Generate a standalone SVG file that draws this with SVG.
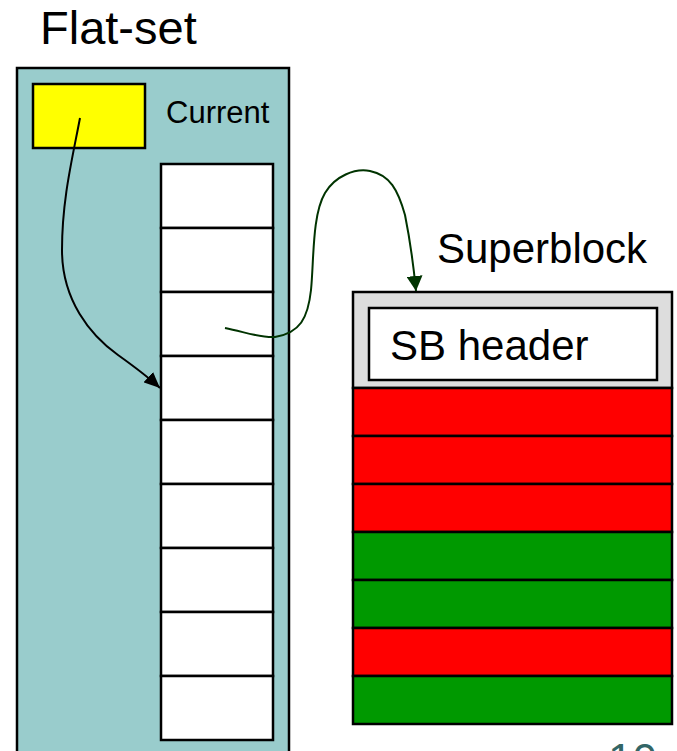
<svg xmlns="http://www.w3.org/2000/svg" width="677" height="751" viewBox="0 0 677 751">
  <defs>
    <style>
      .lbl { font-family: "Liberation Sans", Arial, sans-serif; fill: #000; }
      .box { stroke: #000; stroke-width: 2.5; }
      .cell { fill: #fff; stroke: #000; stroke-width: 2.5; }
      .red { fill: #ff0000; stroke: #000; stroke-width: 2.5; }
      .green { fill: #009900; stroke: #000; stroke-width: 2.5; }
      .link { fill: none; stroke-width: 2; }
    </style>
    <marker id="arrowBlack" viewBox="0 0 16 14" refX="16" refY="7" markerWidth="16" markerHeight="14" markerUnits="userSpaceOnUse" orient="auto">
      <path d="M0,0 L16,7 L0,14 z" fill="#000"/>
    </marker>
    <marker id="arrowGreen" viewBox="0 0 15 16" refX="15" refY="8" markerWidth="15" markerHeight="16" markerUnits="userSpaceOnUse" orient="auto">
      <path d="M0,0 L15,8 L0,16 z" fill="#003300"/>
    </marker>
  </defs>

  <rect width="677" height="751" fill="#fff"/>

  <!-- Flat-set container -->
  <g id="flat-set">
    <text class="lbl" x="40" y="44" font-size="47">Flat-set</text>
    <rect class="box" x="17" y="68" width="272" height="700" fill="#99cccc"/>
  </g>

  <!-- Current pointer -->
  <g id="current">
    <rect class="box" x="33" y="84" width="112" height="64" fill="#ffff00"/>
    <text class="lbl" x="166" y="123" font-size="31">Current</text>
  </g>

  <!-- Flat-set slots -->
  <g id="slots">
    <rect class="cell" x="161" y="164" width="112" height="64"/>
    <rect class="cell" x="161" y="228" width="112" height="64"/>
    <rect class="cell" x="161" y="292" width="112" height="64"/>
    <rect class="cell" x="161" y="356" width="112" height="64"/>
    <rect class="cell" x="161" y="420" width="112" height="64"/>
    <rect class="cell" x="161" y="484" width="112" height="64"/>
    <rect class="cell" x="161" y="548" width="112" height="64"/>
    <rect class="cell" x="161" y="612" width="112" height="64"/>
    <rect class="cell" x="161" y="676" width="112" height="64"/>
  </g>

  <!-- Superblock -->
  <g id="superblock">
    <text class="lbl" x="437" y="263" font-size="42">Superblock</text>
    <rect class="box" x="353" y="292" width="319" height="96" fill="#dddddd"/>
    <rect class="box" x="369" y="308" width="288" height="72" fill="#fff"/>
    <text class="lbl" x="390" y="360" font-size="42">SB header</text>
    <rect class="red" x="353" y="388" width="319" height="48"/>
    <rect class="red" x="353" y="436" width="319" height="48"/>
    <rect class="red" x="353" y="484" width="319" height="48"/>
    <rect class="green" x="353" y="532" width="319" height="48"/>
    <rect class="green" x="353" y="580" width="319" height="48"/>
    <rect class="red" x="353" y="628" width="319" height="48"/>
    <rect class="green" x="353" y="676" width="319" height="48"/>
  </g>

  <!-- Connectors -->
  <g id="connectors">
    <path class="link" stroke="#000" marker-end="url(#arrowBlack)"
          d="M80,118 C72,160 62,200 62,250 C62,300 90,335 118,355 C132,365 146,375 160,388"/>
    <path class="link" stroke="#003300" marker-end="url(#arrowGreen)"
          d="M225,328 C245,332 260,338 275,337 C300,333 308,318 311,290 C314,260 312,215 325,193 C335,176 355,168 370,171 C390,175 398,190 405,215 C409,235 413,260 416,291"/>
  </g>

  <!-- Page number, running off the bottom edge -->
  <text class="lbl" x="608" y="775" font-size="44" style="fill:#336666">10</text>
</svg>
